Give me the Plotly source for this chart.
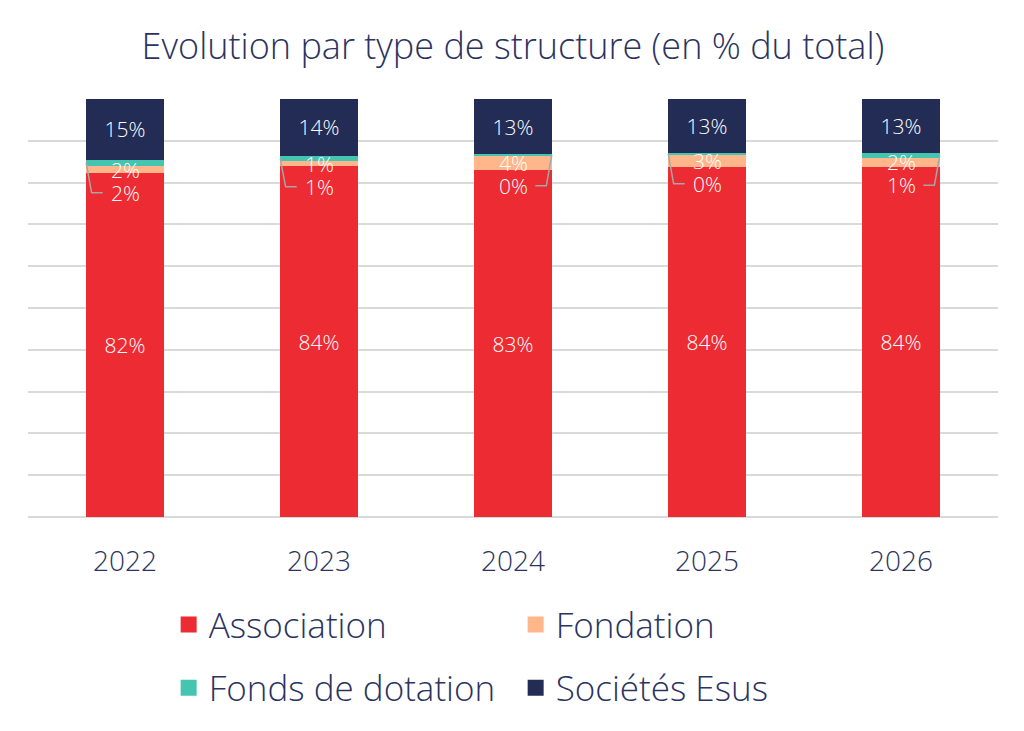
import plotly.graph_objects as go

years = ["2022", "2023", "2024", "2025", "2026"]
association = [82.2, 83.9, 82.9, 83.8, 83.7]
fondation = [1.7, 1.2, 3.7, 2.9, 2.3]
fonds_dotation = [1.6, 1.3, 0.2, 0.3, 1.2]
societes_esus = [14.6, 13.6, 13.2, 13.0, 12.8]

series_names = ["Association", "Fondation", "Fonds de dotation", "Sociétés Esus"]
colors = ["#EC2B32", "#FFB68A", "#45C4B0", "#232C55"]
text_color = "#2B3360"
font_family = "Open Sans"

# layout-only: side of the leader line for the small "Fonds de dotation" labels
leader_side = [-1, -1, 1, -1, 1]

xs = list(range(len(years)))
bar_w = 0.4

fig = go.Figure()
series = [association, fondation, fonds_dotation, societes_esus]
legends = ["legend", "legend", "legend2", "legend2"]
for i, (name, vals) in enumerate(zip(series_names, series)):
    show_text = name in ("Association", "Sociétés Esus")
    fig.add_trace(go.Bar(
        x=xs, y=vals, name=name, width=bar_w,
        marker=dict(color=colors[i], line=dict(width=0)),
        text=[f"{round(v)}%" for v in vals] if show_text else None,
        textposition="inside" if show_text else "none",
        insidetextanchor="middle",
        constraintext="none",
        textfont=dict(color="white", size=21, family=font_family, weight=300),
        legendgroup=name, showlegend=False,
        hoverinfo="skip",
    ))

# legend entries (larger square swatches)
for i, name in enumerate(series_names):
    fig.add_trace(go.Scatter(
        x=[None], y=[None], mode="markers", name=name,
        marker=dict(symbol="square", size=22, color=colors[i]),
        legendgroup=name, legend=legends[i], showlegend=True,
    ))

annotations = []
for i, x in enumerate(xs):
    fond_center = association[i] + fondation[i] / 2
    annotations.append(dict(x=x, y=fond_center, xref="x", yref="y", text=f"{round(fondation[i])}%",
                            showarrow=False, font=dict(color="white", size=21, family=font_family, weight=300)))
    label_y = fond_center - 5.5
    annotations.append(dict(x=x, y=label_y, xref="x", yref="y", text=f"{round(fonds_dotation[i])}%",
                            showarrow=False, font=dict(color="white", size=21, family=font_family, weight=300)))
    s = leader_side[i]
    start_y = association[i] + fondation[i] + fonds_dotation[i] / 2
    fig.add_trace(go.Scatter(
        x=[x + s * bar_w / 2, x + s * 0.172, x + s * 0.115],
        y=[start_y, label_y, label_y],
        mode="lines", line=dict(color="#A6A6A6", width=1.5),
        showlegend=False, hoverinfo="skip",
    ))

fig.update_layout(
    barmode="stack",
    width=1024, height=731,
    margin=dict(l=20, r=34, t=91, b=222),
    paper_bgcolor="white", plot_bgcolor="white",
    font=dict(family=font_family, color=text_color),
    title=dict(text="Evolution par type de structure (en % du total)",
               x=(20 + 990) / 2 / 1024, xref="container", xanchor="center",
               y=1 - 38 / 731, yref="container", yanchor="middle",
               font=dict(size=36, color=text_color, family=font_family, weight=300)),
    xaxis=dict(tickmode="array", tickvals=xs, ticktext=years, range=[-0.5, 4.5],
               showgrid=False, zeroline=False, ticks="", ticklabelstandoff=25,
               tickfont=dict(size=28, color=text_color, family=font_family, weight=300),
               fixedrange=True),
    yaxis=dict(range=[0, 100], dtick=10, showgrid=True, gridcolor="#D9D9D9", gridwidth=1.5,
               zeroline=True, zerolinecolor="#D9D9D9", zerolinewidth=1.5,
               showticklabels=False, ticks="", fixedrange=True),
    legend=dict(orientation="h", x=0.145, xanchor="left", y=-0.258, yanchor="middle",
                traceorder="normal",
                entrywidth=302, entrywidthmode="pixels",
                font=dict(size=35, color=text_color, family=font_family, weight=300),
                bgcolor="rgba(0,0,0,0)"),
    legend2=dict(orientation="h", x=0.145, xanchor="left", y=-0.409, yanchor="middle",
                 traceorder="normal",
                 entrywidth=302, entrywidthmode="pixels",
                 font=dict(size=35, color=text_color, family=font_family, weight=300),
                 bgcolor="rgba(0,0,0,0)"),
    annotations=annotations,
    showlegend=True,
)

fig.write_html("out.html")
